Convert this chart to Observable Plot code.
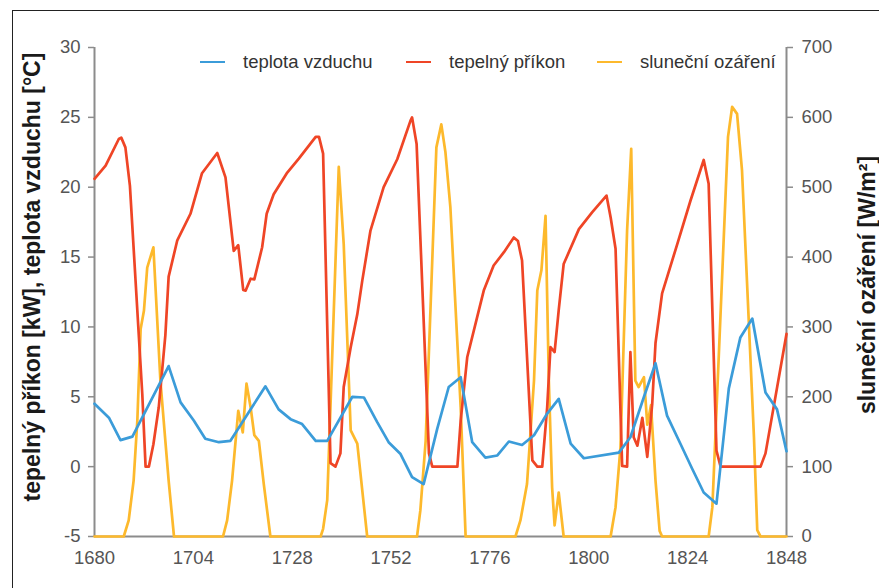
<!DOCTYPE html>
<html><head><meta charset="utf-8">
<script src="https://cdn.jsdelivr.net/npm/d3@7"></script>
<script src="https://cdn.jsdelivr.net/npm/@observablehq/plot@0.6"></script>
<style>
body{margin:0;background:#fff;}
#wrap{position:relative;width:879px;height:588px;overflow:hidden;font-family:"Liberation Sans",Arial,sans-serif;background:#fff;}
#frame{position:absolute;left:12px;top:10px;width:1000px;height:1000px;border:1.5px solid #222;box-sizing:border-box;}
#chart{position:absolute;left:0;top:0;}
.leg{position:absolute;top:51px;height:22px;display:flex;align-items:center;font-size:18.5px;color:#333;white-space:nowrap;}
.leg span.sw{display:inline-block;width:25px;height:2.6px;margin-right:18px;}
.ttl{position:absolute;font-size:23px;font-weight:bold;color:#1a1a1a;white-space:nowrap;transform:translate(-50%,-50%) rotate(-90deg);line-height:1;}
</style></head>
<body>
<div id="wrap"><div id="frame"></div><div id="chart"></div></div>
<script>
const xTicks = [1680, 1704, 1728, 1752, 1776, 1800, 1824, 1848];
const leftTicks = [-5, 0, 5, 10, 15, 20, 25, 30];
const rightTicks = [0, 100, 200, 300, 400, 500, 600, 700];
const seriesNames = ["teplota vzduchu", "tepelný příkon", "sluneční ozáření"];
const seriesColors = ["#3b9cd9", "#ef4526", "#fdb92c"];
const leftTitle = "tepelný příkon [kW], teplota vzduchu [°C]";
const rightTitle = "sluneční ozáření [W/m²]";

// air temperature [°C]
const tempHours = [1680,1683.5,1686.3,1689.2,1698.0,1700.9,1704.1,1706.9,1710.2,1713.0,1721.5,1724.7,1727.6,1730.4,1733.7,1736.5,1742.6,1745.4,1748.6,1751.4,1754.3,1757.1,1759.9,1763.2,1766.0,1768.9,1771.7,1774.9,1777.8,1780.6,1783.8,1786.7,1789.9,1792.7,1795.6,1798.8,1807.3,1810.1,1813.4,1816.2,1819.0,1822.3,1825.1,1827.9,1831.0,1834.0,1836.8,1839.7,1842.9,1845.7,1848];
const tempValues = [4.5,3.5,1.9,2.15,7.2,4.6,3.3,2.0,1.75,1.85,5.75,4.1,3.4,3.05,1.85,1.85,5.0,4.95,3.2,1.75,0.9,-0.75,-1.25,2.7,5.7,6.4,1.75,0.65,0.8,1.8,1.55,2.25,3.8,4.85,1.65,0.6,1.0,2.1,5.0,7.4,3.65,1.6,-0.15,-1.85,-2.65,5.6,9.25,10.6,5.3,4.1,1.1];

// heat input [kW]
const heatHours = [1680,1682.7,1685.9,1686.5,1687.5,1688.6,1691.6,1692.4,1693.2,1694.3,1695.6,1697.2,1698.0,1700.1,1703.3,1706.1,1709.8,1711.8,1713.8,1714.9,1716.1,1716.7,1717.9,1718.8,1720.7,1721.8,1723.5,1726.8,1729.6,1733.7,1734.5,1735.5,1737.3,1738.5,1739.7,1740.5,1742.2,1743.8,1745.0,1747.0,1750.2,1753.5,1756.7,1757.1,1758.2,1761.2,1762.0,1768.1,1768.9,1770.5,1772.9,1774.5,1776.9,1779.4,1781.8,1782.8,1783.8,1786.3,1787.5,1788.7,1789.9,1790.7,1791.7,1792.7,1793.9,1797.6,1800.8,1804.3,1805.3,1806.5,1808.1,1809.3,1810.1,1810.9,1811.8,1813.0,1814.2,1815.4,1816.2,1817.8,1821.5,1824.7,1827.9,1829.1,1831.0,1832.0,1841.7,1842.9,1848];
const heatValues = [20.6,21.55,23.45,23.55,22.85,20.1,5.2,0,0,1.6,4.25,9.4,13.6,16.2,18.1,21.0,22.45,20.7,15.45,15.85,12.65,12.6,13.45,13.4,15.7,18.1,19.5,21.05,22.05,23.6,23.6,22.4,0.25,0,0.95,5.7,8.55,10.9,13.3,16.9,20.0,22.0,24.75,25.0,23.1,0.95,0,0,3.3,7.85,10.7,12.6,14.4,15.35,16.4,16.15,14.75,0.45,0,0,4.25,8.55,8.2,11.2,14.5,17.0,18.2,19.4,17.85,15.6,0.05,0,8.2,2.1,1.5,3.5,0.7,4.5,8.85,12.4,15.95,19.05,21.95,20.25,1.15,0,0,0.95,9.5];

// solar irradiance [W/m2]
const solarHours = [1680,1687.1,1688.3,1689.5,1690.4,1691.2,1692.0,1692.8,1694.3,1696.0,1697.2,1698.0,1699.3,1711.2,1712.2,1713.4,1714.9,1716.0,1716.9,1717.9,1718.8,1719.9,1721.1,1722.7,1734.9,1735.5,1736.5,1739.3,1740.5,1742.2,1743.8,1746.2,1758.3,1759.1,1760.4,1763.0,1764.2,1765.2,1766.4,1768.9,1770.1,1782.2,1783.4,1785.0,1786.7,1787.5,1788.5,1789.5,1790.3,1791.1,1791.7,1792.7,1793.9,1805.3,1806.5,1807.7,1809.3,1810.3,1811.3,1812.1,1813.4,1814.2,1815.1,1816.2,1817.2,1817.8,1829.1,1830.0,1830.8,1833.8,1834.8,1836.0,1837.2,1840.1,1840.9,1841.7,1848];
const solarValues = [0,0,23,80,166,297,323,385,414,223,137,80,0,0,23,80,180,149,219,185,145,137,75,0,0,11,52,529,419,152,133,0,0,37,137,557,590,550,471,185,0,0,23,75,223,352,381,459,223,70,16,63,0,0,42,128,438,555,223,214,228,160,188,80,8,0,0,42,152,572,615,605,524,142,9,0,0];

const toLeft = w => -5 + w / 20;
const temp = tempHours.map((h, i) => ({h, v: tempValues[i]}));
const heat = heatHours.map((h, i) => ({h, v: heatValues[i]}));
const solar = solarHours.map((h, i) => ({h, v: toLeft(solarValues[i])}));

const axisColor = "#8c8c8c";
const plot = Plot.plot({
  width: 879, height: 588,
  marginLeft: 94, marginRight: 93, marginTop: 47, marginBottom: 52,
  style: {fontFamily: "'Liberation Sans', Arial, sans-serif", fontSize: "18.5px", color: "#555", background: "transparent", overflow: "visible"},
  x: {domain: [1680, 1848]},
  y: {domain: [-5, 30]},
  marks: [
    Plot.axisX(xTicks, {tickSize: 0, tickPadding: 14, label: null, tickFormat: d => String(d)}),
    Plot.axisY(leftTicks, {anchor: "left", tickSize: 6, tickPadding: 8, label: null, stroke: axisColor, strokeWidth: 1.5, tickFormat: d => String(d)}),
    Plot.axisY(rightTicks.map(toLeft), {anchor: "right", tickSize: 6, tickPadding: 9, label: null, stroke: axisColor, strokeWidth: 1.5, tickFormat: y => String(Math.round((y + 5) * 20))}),
    Plot.ruleX([1680, 1848], {stroke: axisColor, strokeWidth: 2}),
    Plot.ruleY([-5], {stroke: axisColor, strokeWidth: 2}),
    Plot.line(solar, {x: "h", y: "v", stroke: seriesColors[2], strokeWidth: 2.7}),
    Plot.line(heat, {x: "h", y: "v", stroke: seriesColors[1], strokeWidth: 2.7}),
    Plot.line(temp, {x: "h", y: "v", stroke: seriesColors[0], strokeWidth: 2.7})
  ]
});
document.getElementById("chart").appendChild(plot);

const wrap = document.getElementById("wrap");
const legLefts = [200, 406, 597];
seriesNames.forEach((name, i) => {
  const d = document.createElement("div");
  d.className = "leg";
  d.style.left = legLefts[i] + "px";
  d.innerHTML = `<span class="sw" style="background:${seriesColors[i]}"></span><span>${name}</span>`;
  wrap.appendChild(d);
});
[[leftTitle, 32, 277], [rightTitle, 867, 285]].forEach(([t, cx, cy]) => {
  const d = document.createElement("div");
  d.className = "ttl";
  d.style.left = cx + "px";
  d.style.top = cy + "px";
  d.textContent = t;
  wrap.appendChild(d);
});
</script>
</body></html>
